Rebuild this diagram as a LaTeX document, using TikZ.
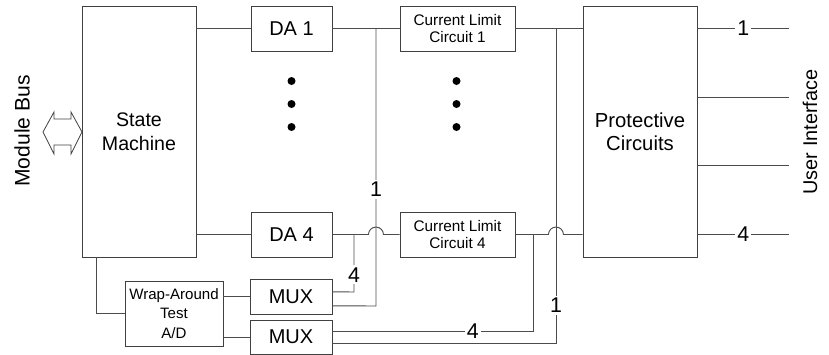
\documentclass[tikz,border=0pt]{standalone}
\usepackage{fontspec}
\setmainfont{Liberation Sans}
\begin{document}
\begin{tikzpicture}[x=0.75pt,y=-0.75pt,
  blk/.style={draw=black!75,line width=0.6pt,align=center,inner sep=0pt},
  wire/.style={draw=black!70,line width=0.7pt},
  lbl/.style={fill=white,inner sep=1.5pt,font=\fontsize{16}{17}\selectfont},
  big/.style={font=\fontsize{15}{18}\selectfont},
  small/.style={font=\fontsize{11.5}{13}\selectfont}]
  \useasboundingbox (0,0) rectangle (829,354);

  % Blocks
  \node[blk,minimum width=85.5pt,minimum height=188.25pt,font=\fontsize{14.7}{18}\selectfont] (sm) at (139,131.5) {State\\Machine};
  \node[blk,big,minimum width=60.75pt,minimum height=33.75pt] (da1) at (291.5,28.5) {DA 1};
  \node[blk,big,minimum width=60.75pt,minimum height=33.75pt] (da4) at (291.5,234.5) {DA 4};
  \node[blk,small,minimum width=86.25pt,minimum height=33.75pt] (cl1) at (457.5,28.5) {Current Limit\\Circuit 1};
  \node[blk,small,minimum width=86.25pt,minimum height=33.75pt] (cl4) at (457.5,234.5) {Current Limit\\Circuit 4};
  \node[blk,minimum width=85.5pt,minimum height=188.25pt,font=\fontsize{15.2}{17.5}\selectfont] (pc) at (640,131.5) {Protective\\Circuits};
  \node[blk,minimum width=73.5pt,minimum height=48.75pt,font=\fontsize{11.3}{14.5}\selectfont] (wrap) at (174,313.5) {Wrap-Around\\Test\\A/D};
  \node[blk,big,minimum width=61.5pt,minimum height=26.25pt] (mux1) at (291,296.5) {MUX};
  \node[blk,big,minimum width=61.5pt,minimum height=25.5pt] (mux2) at (291,337) {MUX};

  % Side labels and bus arrow
  \node[rotate=90,font=\fontsize{15.8}{18}\selectfont] (bus) at (22,131) {Module Bus};
  \node[rotate=90,font=\fontsize{14.9}{18}\selectfont] (ui) at (810,132) {User Interface};
  \draw[draw=black!75,line width=0.6pt,fill=white] (43,132) -- (54,112) -- (54,119) -- (71,119) -- (71,112)
    -- (82,132) -- (71,154) -- (71,145) -- (54,145) -- (54,154) -- cycle;

  % Dots between channels
  \foreach \y in {81,104,127} {
    \fill (291.5,\y) circle[radius=3pt];
    \fill (456.5,\y) circle[radius=3pt];
  }

  % State machine side
  \draw[wire] (sm.east |- da1.west) -- (da1.west);
  \draw[wire] (sm.east |- da4.west) -- (da4.west);
  \draw[wire] ([xshift=11.25pt]sm.south west) |- (wrap.west);
  \draw[wire] (wrap.east |- mux1.west) -- (mux1.west);
  \draw[wire] (wrap.east |- mux2.west) -- (mux2.west);

  % DA outputs
  \coordinate (j1) at (376,28.5);
  \coordinate (j4) at (354,234.5);
  \draw[wire] (da1.east) -- (cl1.west);
  \draw[wire] (da4.east) -- (368.5,234.5) arc[start angle=180,end angle=0,radius=5.6pt] -- (cl4.west);
  \draw[wire] (j1) -- node[lbl,pos=0.58] {1} (j1 |- 0,306) -- ([yshift=-7pt]mux1.east);
  \draw[wire] (j4) -- node[lbl,pos=0.7] {4} (j4 |- 0,292) -- ([yshift=3.5pt]mux1.east);

  % Current limit outputs
  \coordinate (k1) at (556,28.5);
  \coordinate (k4) at (533,234.5);
  \draw[wire] (cl1.east) -- (pc.west |- cl1.east);
  \draw[wire] (cl4.east) -- (548.5,234.5) arc[start angle=180,end angle=0,radius=5.6pt] -- (pc.west |- cl4.east);
  \draw[wire] (k1) -- node[lbl,pos=0.88] {1} (k1 |- 0,343) -- ([yshift=-4.5pt]mux2.east);
  \draw[wire] (k4) -- (k4 |- 0,331) -- node[lbl,pos=0.3] {4} ([yshift=4.5pt]mux2.east);

  % User interface lines
  \coordinate (u1) at (789,28.5);
  \coordinate (u2) at (789,97.5);
  \coordinate (u3) at (789,165.5);
  \coordinate (u4) at (789,234.5);
  \draw[wire] (pc.east |- u1) -- node[lbl] {1} (u1);
  \draw[wire] (pc.east |- u2) -- (u2);
  \draw[wire] (pc.east |- u3) -- (u3);
  \draw[wire] (pc.east |- u4) -- node[lbl] {4} (u4);
\end{tikzpicture}
\end{document}
